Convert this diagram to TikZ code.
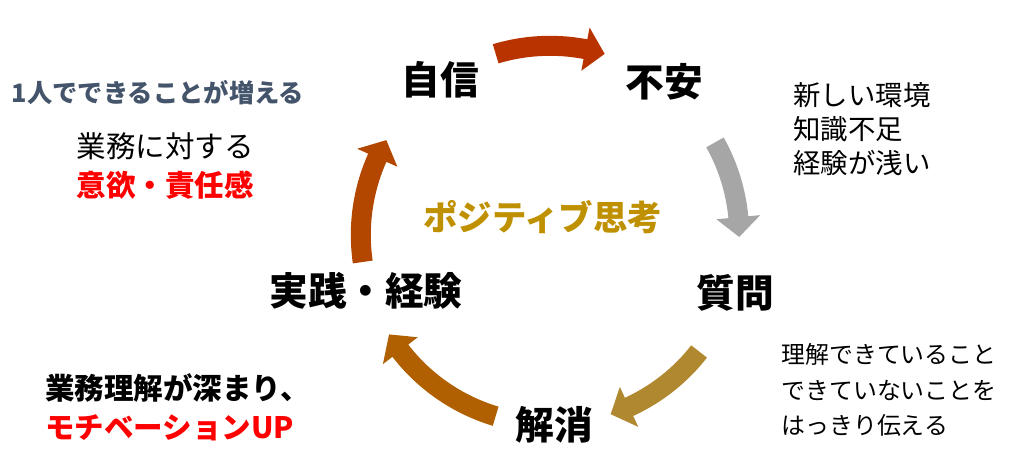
\documentclass[tikz,border=0pt]{standalone}
\usepackage{fontspec}
\setmainfont{Noto Sans CJK JP}
\usepackage{xcolor}
\usetikzlibrary{positioning}
\definecolor{arrA}{HTML}{B83300}
\definecolor{arrB}{HTML}{A6A6A6}
\definecolor{arrC}{HTML}{B08830}
\definecolor{arrD}{HTML}{B06000}
\definecolor{arrE}{HTML}{B34700}
\definecolor{slate}{HTML}{44546A}
\definecolor{posi}{HTML}{BF9000}
\definecolor{alert}{HTML}{FF0000}
% block arrow on the ring: colour, start angle, tip angle
\newcommand{\ringarrow}[3]{%
  \pgfmathsetmacro{\headang}{#3+6}%
  \fill[#1] (#2:4.48) arc[start angle=#2,end angle=\headang,radius=4.48cm]
    -- (\headang:4.18) -- (#3:4.73) -- (\headang:5.28)
    -- (\headang:4.98) arc[start angle=\headang,end angle=#2,radius=4.98cm] -- cycle;}
\tikzset{
  stage/.style={font=\fontsize{27.5}{33}\selectfont\bfseries,inner sep=0pt},
  note/.style={font=\fontsize{19.5}{24}\selectfont,align=left,inner sep=0pt,anchor=west},
  gain/.style={font=\fontsize{21}{27.5}\selectfont,align=center,inner sep=0pt},
}
\begin{document}
\begin{tikzpicture}
\useasboundingbox (0,0) rectangle (25.525,11.825);
\begin{scope}[shift={(13.75,5.95)}]
\ringarrow{arrA}{106.7}{73.2}
\ringarrow{arrB}{29.3}{-0.6}
\ringarrow{arrC}{-38}{-71.3}
\ringarrow{arrD}{-106.7}{-148.3}
\ringarrow{arrE}{188.2}{149.9}
\end{scope}
\node[stage] (jishin) at (11.0,9.825) {自信};
\node[stage] (fuan) at (16.6,9.775) {不安};
\node[stage] (shitsumon) at (18.375,4.5) {質問};
\node[stage] (kaisho) at (13.85,1.2) {解消};
\node[stage] (jissen) at (9.15,4.55) {実践・経験};
\node[stage,font=\fontsize{24.5}{30}\selectfont\bfseries,text=posi] (posi) at (13.57,6.4) {ポジティブ思考};
\node[inner sep=0pt,font=\fontsize{18}{22}\selectfont\bfseries,text=slate] (dekiru) at (3.95,9.5) {1人でできることが増える};
\node[gain] (iyoku) at (4.13,7.675) {業務に対する\\\textcolor{alert}{\bfseries 意欲・責任感}};
\node[note] (kankyo) at (19.83,8.6) {新しい環境\\知識不足\\経験が浅い};
\node[note,font=\fontsize{17}{25}\selectfont] (tsutaeru) at (19.53,2.075) {理解できていること\\できていないことを\\はっきり伝える};
\node[note,font=\fontsize{21}{27.7}\selectfont\bfseries] (fukamari) at (1.125,1.64) {業務理解が深まり、\\\textcolor{alert}{モチベーションUP}};
\end{tikzpicture}
\end{document}
